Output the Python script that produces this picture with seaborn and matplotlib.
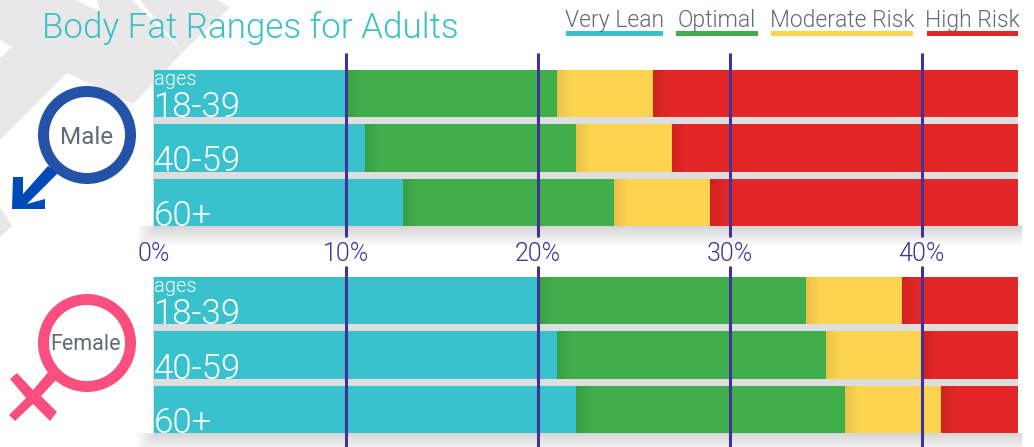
import pandas as pd
import seaborn as sns
import matplotlib
matplotlib.use("Agg")
import matplotlib.pyplot as plt
from matplotlib.patches import Polygon, Circle, Rectangle

# upper end of every band, in percent body fat
age_groups = ["18-39", "40-59", "60+"]
bands = ["Very Lean", "Optimal", "Moderate Risk", "High Risk"]
male_lean = [10, 11, 13]
male_optimal = [21, 22, 24]
male_moderate = [26, 27, 29]
male_high = [45, 45, 45]
female_lean = [20, 21, 22]
female_optimal = [34, 35, 36]
female_moderate = [39, 40, 41]
female_high = [45, 45, 45]
ticks = [0, 10, 20, 30, 40]
tick_labels = ["0%", "10%", "20%", "30%", "40%"]

colors = {"Very Lean": "#39c2cd", "Optimal": "#40ae4a",
          "Moderate Risk": "#fcd450", "High Risk": "#e32726"}
PURPLE = "#43309a"
TEXT = "#5f6b75"
W, H = 1034, 447

sns.set_theme(style="white")
plt.rcParams["font.family"] = ["Roboto", "DejaVu Sans"]
plt.rcParams["font.weight"] = 300


def make_table(lean, optimal, moderate, high):
    rows = []
    for band, vals in zip(bands, [lean, optimal, moderate, high]):
        for age, v in zip(age_groups, vals):
            rows.append({"age": age, "band": band, "upper": v})
    return pd.DataFrame(rows)


def px_axes(fig, left, top, right, bottom):
    return fig.add_axes([left / W, 1 - bottom / H, (right - left) / W, (bottom - top) / H])


def draw_bars(ax, df):
    # longest first, so shorter bands sit on top and it reads as stacked
    sns.barplot(data=df, y="age", x="upper", hue="band", order=age_groups,
                hue_order=bands[::-1], palette=colors, dodge=False, width=0.862,
                saturation=1, legend=False, ax=ax, zorder=3, linewidth=0)
    # small shade where each band starts
    for band in bands[:3]:
        part = df[df["band"] == band]
        for i, v in enumerate(part["upper"]):
            for k in range(6):
                ax.add_patch(Rectangle((v, i - 0.431), 0.12 * (k + 1), 0.862, color="black",
                                       alpha=0.012, lw=0, zorder=4))
    ax.set_xlim(0, 45)
    ax.set_ylim(2.43, -0.43)
    ax.set_xlabel("")
    ax.set_ylabel("")
    ax.set_xticks([])
    ax.set_yticks([])
    sns.despine(ax=ax, left=True, bottom=True)
    ax.patch.set_alpha(0)


def shadow(bg, top, bottom):
    # grey fill between the rows, fading out below the block
    bg.add_patch(Rectangle((153, top), 865, bottom - top, color="#dedede", lw=0, zorder=2))
    for k in range(10):
        pad = 2 + k * 2
        bg.add_patch(Rectangle((157 - pad, bottom), 865 + pad, pad, color="black",
                               alpha=0.014, lw=0, zorder=1))


def age_labels(ax_over, tops):
    ax_over.text(154, tops[0] + 15, "ages", color="white", fontsize=14.5, va="baseline")
    for top, label in zip(tops, age_groups):
        ax_over.text(154, top + 47, label, color="white", fontsize=25, va="baseline")


fig = plt.figure(figsize=(W / 100, H / 100), dpi=100)

bg = fig.add_axes([0, 0, 1, 1], zorder=0)
bg.set_xlim(0, W)
bg.set_ylim(H, 0)
bg.axis("off")

# grey chevrons behind the title
GREY = "#e8e8e8"
bg.add_patch(Polygon([(0, 0), (217, 0), (230, 7), (183, 52), (133, 104), (67, 73), (0, 140)], color=GREY, lw=0))
bg.add_patch(Polygon([(75, 0), (97, 0), (100, 12)], color="white", lw=0))
bg.add_patch(Polygon([(132, 0), (140, 0), (183, 52)], color="white", lw=0))
bg.add_patch(Polygon([(0, 40), (12, 47), (0, 58)], color="white", lw=0))
bg.add_patch(Polygon([(0, 207), (12, 226), (0, 237)], color=GREY, lw=0))
shadow(bg, 70, 226)
shadow(bg, 277, 433)

ax_male = px_axes(fig, 153.5, 70, 1017.5, 226)
ax_female = px_axes(fig, 153.5, 277, 1017.5, 433)
ax_male.set_zorder(1)
ax_female.set_zorder(1)
draw_bars(ax_male, make_table(male_lean, male_optimal, male_moderate, male_high))
draw_bars(ax_female, make_table(female_lean, female_optimal, female_moderate, female_high))

over = fig.add_axes([0, 0, 1, 1], zorder=2)
over.set_xlim(0, W)
over.set_ylim(H, 0)
over.axis("off")

# vertical guides, broken around the tick labels
scale = (1017.5 - 153.5) / 45
for t, lab in zip(ticks, tick_labels):
    x = 153.5 + t * scale
    over.text(x, 261, lab, color=PURPLE, fontsize=18, ha="center", va="baseline")
    if t > 0:
        over.plot([x, x], [53, 237], color=PURPLE, lw=2.2, solid_capstyle="butt")
        over.plot([x, x], [266, 447], color=PURPLE, lw=2.2, solid_capstyle="butt")

age_labels(over, [70, 124, 179])
age_labels(over, [277, 332, 386])

# title and legend
over.text(42, 38, "Body Fat Ranges for Adults", color="#3bbfc9", fontsize=25.2, va="baseline")
legend_x = [(566, 663), (676, 758), (771, 913), (927, 1018)]
for band, (x0, x1) in zip(bands, legend_x):
    over.text((x0 + x1) / 2, 27, band, color=TEXT, fontsize=16.5, ha="center", va="baseline")
    over.add_patch(Rectangle((x0, 31), x1 - x0, 5, color=colors[band], lw=0))

# male symbol
BLUE = "#2352a6"
over.add_patch(Polygon([(48, 166), (59, 172), (27, 204), (45, 199), (45, 209), (12, 209), (13, 177), (23, 177), (23, 194)],
                       color="#0049b8", lw=0))
over.add_patch(Circle((87, 135), 43.5, facecolor="white", edgecolor=BLUE, lw=7.9))
over.text(87, 144, "Male", color=TEXT, fontsize=17.5, fontweight=400, ha="center", va="baseline")

# female symbol
PINK = "#f94f7e"
over.add_patch(Polygon([(50, 370), (58, 378), (41, 396), (57, 412), (50, 421), (33, 404), (15, 421), (9, 415), (26, 398), (10, 379), (17, 373), (33, 390)],
                       color=PINK, lw=0))
over.add_patch(Circle((87, 343), 43.5, facecolor="white", edgecolor=PINK, lw=7.9))
over.text(86, 350, "Female", color=TEXT, fontsize=15.5, fontweight=400, ha="center", va="baseline")

fig.savefig("out.png", dpi=100)
